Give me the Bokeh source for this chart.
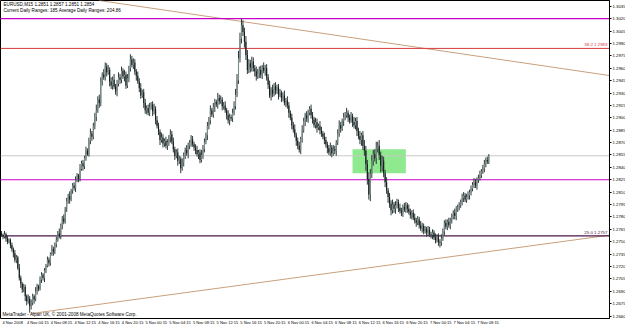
from bokeh.plotting import figure
from bokeh.models import Range1d, FixedTicker, Label, PrintfTickFormatter
from bokeh.embed import file_html
from bokeh.resources import INLINE
from bokeh.core.properties import value

# ---------------- data (EURUSD M15, prices in pips above BASE) ----------------
BASE = 1.2600
PIP = 0.0001
OPEN0 = 160
closes = [
    158, 156, 159, 154, 150, 152, 146, 141, 136, 128,
    131, 118, 106, 99, 92, 95, 84, 78, 81, 72,
    76, 84, 80, 90, 96, 93, 104, 110, 106, 115,
    121, 128, 124, 135, 141, 138, 147, 152, 160, 157,
    170, 178, 174, 190, 199, 205, 201, 212, 218, 215,
    224, 230, 226, 238, 245, 241, 252, 260, 256, 272,
    281, 277, 290, 301, 309, 322, 318, 344, 352, 349,
    362, 355, 358, 344, 339, 346, 338, 332, 341, 349,
    346, 357, 350, 352, 339, 348, 360, 371, 364, 367,
    356, 351, 344, 336, 327, 331, 318, 309, 312, 306,
    313, 316, 308, 311, 297, 290, 283, 273, 276, 269,
    272, 266, 270, 276, 280, 271, 262, 254, 258, 248,
    250, 239, 246, 254, 261, 257, 266, 270, 274, 268,
    264, 261, 256, 258, 249, 255, 262, 271, 279, 290,
    297, 309, 304, 313, 319, 316, 324, 320, 322, 314,
    315, 309, 303, 297, 301, 299, 306, 314, 328, 345,
    372, 396, 412, 404, 392, 376, 358, 366, 361, 368,
    360, 356, 350, 354, 358, 352, 361, 357, 360, 349,
    340, 327, 334, 329, 338, 333, 337, 328, 330, 324,
    327, 318, 321, 315, 306, 300, 291, 286, 279, 272,
    266, 261, 274, 285, 296, 303, 299, 306, 311, 303,
    298, 291, 295, 288, 290, 285, 281, 277, 273, 268,
    263, 258, 264, 257, 262, 260, 270, 281, 291, 287,
    296, 301, 303, 306, 300, 297, 302, 295, 291, 296,
    284, 278, 273, 279, 266, 260, 244, 226, 207, 232,
    248, 256, 251, 263, 266, 255, 242, 248, 233, 222,
    212, 204, 196, 188, 195, 190, 194, 198, 191, 187,
    185, 192, 189, 194, 190, 186, 182, 185, 179, 176,
    173, 177, 170, 166, 169, 163, 165, 161, 164, 159,
    158, 161, 155, 152, 156, 150, 149, 154, 162, 173,
    168, 174, 170, 176, 180, 185, 181, 189, 192, 194,
    198, 203, 206, 201, 204, 206, 210, 214, 219, 222,
    218, 225, 227, 231, 235, 239, 244, 249, 247, 254,
]
wick_up = [
    3, 2, 4, 2, 3, 2, 2, 3, 2, 4, 3, 2, 5, 3, 2, 4, 3, 2, 5, 3, 4, 3, 2, 5, 3, 2, 4, 3, 2, 3,
    2, 4, 3, 2, 5, 3, 2, 4, 3, 6, 2, 3, 5, 2, 4, 3, 6, 2, 3, 4, 5, 3, 2, 6, 3, 4, 2, 5, 3, 4,
    6, 3, 4, 5, 7, 4, 6, 5, 3, 7, 5, 4, 6, 3, 5, 4, 7, 3, 5, 6, 4, 5, 3, 6, 4, 5, 3, 6, 4, 5,
    4, 3, 5, 4, 6, 3, 4, 5, 3, 4, 5, 3, 4, 6, 3, 5, 4, 3, 6, 4, 3, 5, 4, 3, 6, 4, 5, 3, 4, 5,
    4, 3, 5, 4, 3, 6, 4, 3, 5, 4, 3, 4, 5, 3, 4, 6, 5, 4, 3, 5, 4, 6, 3, 5, 4, 3, 6, 4, 5, 3,
    4, 5, 3, 6, 4, 3, 5, 6, 7, 8, 9, 7, 8, 6, 5, 7, 6, 5, 4, 6, 5, 4, 6, 5, 4, 5, 3, 6, 4, 5,
    4, 5, 3, 6, 4, 5, 3, 4, 5, 3, 4, 6, 3, 5, 4, 3, 5, 4, 6, 3, 4, 5, 3, 6, 4, 3, 5, 4, 3, 5,
    4, 3, 5, 4, 3, 6, 4, 3, 5, 4, 3, 4, 6, 3, 5, 4, 3, 5, 6, 4, 3, 5, 4, 6, 3, 4, 5, 3, 6, 4,
    5, 4, 6, 3, 5, 7, 6, 5, 8, 6, 7, 5, 6, 8, 5, 7, 4, 6, 5, 4, 6, 3, 5, 4, 6, 3, 5, 4, 3, 5,
    4, 3, 5, 4, 3, 5, 4, 3, 4, 5, 3, 4, 3, 5, 4, 3, 4, 3, 5, 4, 3, 4, 3, 5, 3, 4, 3, 5, 4, 3,
    4, 3, 5, 3, 4, 3, 5, 4, 3, 4, 3, 5, 4, 3, 4, 5, 3, 4, 3, 5, 4, 3, 4, 5, 3, 4, 5, 3, 4, 2,
]
wick_dn = [
    2, 3, 2, 4, 3, 2, 4, 3, 5, 3, 4, 2, 3, 5, 4, 3, 6, 5, 3, 8, 4, 3, 5, 2, 4, 3, 2, 4, 3, 5,
    3, 2, 4, 3, 2, 5, 3, 4, 2, 3, 4, 5, 3, 2, 4, 3, 5, 2, 4, 3, 5, 2, 4, 3, 2, 5, 3, 4, 2, 3,
    4, 5, 3, 4, 5, 3, 6, 4, 5, 3, 4, 5, 3, 6, 4, 5, 3, 4, 6, 3, 5, 4, 3, 6, 4, 3, 5, 4, 3, 5,
    4, 6, 3, 5, 4, 3, 6, 4, 5, 3, 4, 3, 6, 4, 5, 3, 4, 6, 3, 5, 4, 3, 5, 4, 6, 3, 4, 5, 3, 6,
    4, 6, 3, 5, 4, 3, 6, 4, 5, 3, 4, 5, 3, 6, 4, 3, 5, 4, 3, 6, 4, 5, 3, 4, 6, 3, 5, 4, 3, 5,
    4, 3, 5, 4, 6, 3, 4, 3, 4, 3, 4, 5, 6, 5, 7, 6, 5, 4, 6, 5, 4, 6, 5, 3, 6, 4, 5, 3, 6, 4,
    5, 3, 6, 4, 3, 5, 4, 6, 3, 5, 4, 3, 5, 4, 6, 3, 5, 4, 3, 6, 4, 3, 5, 4, 3, 6, 4, 5, 3, 4,
    5, 3, 4, 6, 3, 5, 4, 3, 5, 4, 6, 3, 4, 5, 3, 4, 6, 3, 4, 5, 3, 6, 4, 3, 5, 4, 3, 6, 4, 5,
    6, 4, 5, 7, 5, 6, 8, 7, 6, 8, 5, 6, 4, 7, 5, 6, 8, 7, 5, 6, 4, 7, 5, 6, 4, 5, 6, 4, 5, 3,
    4, 5, 3, 4, 5, 3, 4, 5, 3, 4, 5, 3, 4, 3, 5, 4, 3, 5, 4, 3, 4, 5, 3, 4, 3, 5, 6, 4, 3, 5,
    3, 4, 3, 5, 4, 3, 4, 5, 3, 4, 3, 4, 5, 3, 4, 3, 5, 4, 3, 4, 3, 5, 4, 3, 4, 3, 5, 4, 3, 3,
]

time_label_bars = [0, 17, 33, 49, 65, 81, 97, 113, 129, 145, 161,
                   177, 193, 209, 225, 241, 257, 273, 289, 305, 321]
time_labels = ["4 Nov 2008", "4 Nov 04:15", "4 Nov 08:15", "4 Nov 12:15",
               "4 Nov 16:15", "4 Nov 20:15", "5 Nov 00:15", "5 Nov 04:15",
               "5 Nov 08:15", "5 Nov 12:15", "5 Nov 16:15", "5 Nov 20:15",
               "6 Nov 00:15", "6 Nov 04:15", "6 Nov 08:15", "6 Nov 12:15",
               "6 Nov 16:15", "6 Nov 20:15", "7 Nov 00:15", "7 Nov 04:15",
               "7 Nov 08:15"]
price_ticks = [1.2660, 1.2675, 1.2690, 1.2705, 1.2720, 1.2735, 1.2750,
               1.2765, 1.2780, 1.2795, 1.2810, 1.2825, 1.2840, 1.2855,
               1.2870, 1.2885, 1.2900, 1.2915, 1.2930, 1.2945, 1.2960,
               1.2975, 1.2990, 1.3005, 1.3020, 1.3035]

magenta_levels = [1.3020, 1.2825]
fib_382 = 1.2984
fib_250 = 1.2757
bid = 1.2854
box_left, box_right, box_top, box_bottom = 237, 273, 1.2862, 1.2833
trend_upper = ([66, 411], [1.3042, 1.2951])
trend_lower = ([20, 411], [1.2663, 1.2758])
title_lines = ["EURUSD,M15  1.2851 1.2857 1.2851 1.2854",
               "Current Daily Ranges: 185    Average Daily Ranges: 204.86"]
footer = "MetaTrader - Alpari UK, \u00a9 2001-2008 MetaQuotes Software Corp."

# ---------------- derived OHLC ----------------
opens = [OPEN0] + closes[:-1]
bars = list(range(len(closes)))
o = [BASE + v * PIP for v in opens]
c = [BASE + v * PIP for v in closes]
hi = [BASE + (max(a, b) + u) * PIP for a, b, u in zip(opens, closes, wick_up)]
lo = [BASE + (min(a, b) - d) * PIP for a, b, d in zip(opens, closes, wick_dn)]

X0, X1 = -0.7, 410.5
Y0, Y1 = 1.2657, 1.3042
FONT = "Liberation Sans"

p = figure(frame_width=609, frame_height=318, output_backend="svg", toolbar_location=None,
           x_range=Range1d(X0, X1), y_range=Range1d(Y0, Y1),
           y_axis_location="right", min_border=0,
           min_border_left=0, min_border_top=0, min_border_right=0, min_border_bottom=0)
p.background_fill_color = "white"
p.border_fill_color = "white"
p.outline_line_color = "black"
p.outline_line_width = 1
p.grid.visible = False

# objects
p.quad(left=[box_left], right=[box_right], top=[box_top], bottom=[box_bottom],
       fill_color="#8fe98f", line_color=None)
p.line(trend_upper[0], trend_upper[1], line_color="#c9a07c", line_width=1)
p.line(trend_lower[0], trend_lower[1], line_color="#c9a07c", line_width=1)
for lv in magenta_levels:
    p.line([X0, X1], [lv, lv], line_color="#c800c8", line_width=1.2)
p.line([X0, X1], [fib_382, fib_382], line_color="#d83c3c", line_width=1)
p.line([X0, X1], [fib_250, fib_250], line_color="#4a1848", line_width=1.2)
p.line([X0, X1], [bid, bid], line_color="#c8c8c8", line_width=1)

# candles
p.segment(x0=bars, y0=lo, x1=bars, y1=hi, line_color="#2e3a3a", line_width=1)
up_x = [b for b in bars if c[b] >= o[b]]
dn_x = [b for b in bars if c[b] < o[b]]
p.vbar(x=up_x, width=0.75, top=[c[b] for b in up_x], bottom=[o[b] for b in up_x],
       fill_color="#7d8c8c", line_color=None)
p.vbar(x=dn_x, width=0.75, top=[o[b] for b in dn_x], bottom=[c[b] for b in dn_x],
       fill_color="#151d1d", line_color=None)

# texts in the chart
p.text(x=[X0], y=[Y1], text=[title_lines[0]], x_offset=3, y_offset=1,
       text_baseline="top", text_font=value(FONT), text_font_size="4.6px", text_color="black")
p.text(x=[X0], y=[Y1], text=[title_lines[1]], x_offset=3, y_offset=7,
       text_baseline="top", text_font=value(FONT), text_font_size="4.6px", text_color="black")
p.text(x=[X0], y=[Y0], text=[footer], x_offset=2, y_offset=-2,
       text_baseline="bottom", text_font=value(FONT), text_font_size="4.6px", text_color="black")
p.text(x=[X1], y=[fib_382], text=["38.2 1.2983"], x_offset=-2, y_offset=-1,
       text_align="right", text_baseline="bottom", text_font=value(FONT),
       text_font_size="4.4px", text_color="#d83c3c")
p.text(x=[X1], y=[fib_250], text=["25.0 1.2757"], x_offset=-2, y_offset=-1,
       text_align="right", text_baseline="bottom", text_font=value(FONT),
       text_font_size="4.4px", text_color="#4a1848")

# axes
xa = p.xaxis[0]
xa.ticker = FixedTicker(ticks=[b + 7.5 for b in time_label_bars])
xa.major_label_overrides = {b + 7.5: t for b, t in zip(time_label_bars, time_labels)}
xa.axis_line_color = None
xa.major_tick_line_color = None
xa.major_tick_out = 0
xa.major_tick_in = 0
xa.minor_tick_line_color = None
xa.minor_tick_out = 0
xa.major_label_standoff = 1
xa.major_label_text_font = FONT
xa.major_label_text_font_size = "4px"
xa.major_label_text_color = "black"

ya = p.yaxis[0]
ya.ticker = FixedTicker(ticks=price_ticks)
ya.formatter = PrintfTickFormatter(format="%.4f")
ya.axis_line_color = "black"
ya.major_tick_line_color = "black"
ya.major_tick_out = 2
ya.major_tick_in = 0
ya.minor_tick_line_color = None
ya.minor_tick_out = 0
ya.major_label_standoff = 1
ya.major_label_text_font = FONT
ya.major_label_text_font_size = "4.3px"
ya.major_label_text_color = "black"

# highlighted price labels on the axis
for lv, bg in [(1.3020, "#c800c8"), (1.2825, "#c800c8"), (bid, "black")]:
    p.add_layout(Label(x=X1, y=lv, text="%.4f" % lv, x_offset=3,
                       text_baseline="middle", text_align="left",
                       text_font=FONT, text_font_size="4.3px", text_color="white",
                       background_fill_color=bg, background_fill_alpha=1.0))

open("out.html", "w").write(file_html(p, INLINE))
